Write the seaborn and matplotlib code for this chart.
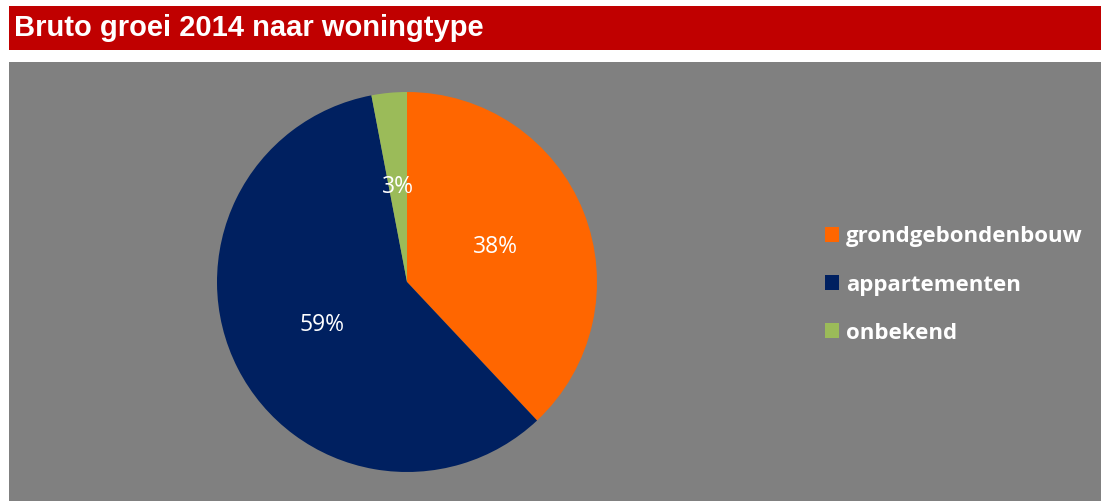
import matplotlib
matplotlib.use("Agg")
import matplotlib.pyplot as plt
import seaborn as sns

# Bruto groei 2014, verdeling naar woningtype (aandeel in %)
categories = ["grondgebondenbouw", "appartementen", "onbekend"]
shares = [38, 59, 3]
colors = ["#FF6600", "#002060", "#9BBB59"]
title = "Bruto groei 2014 naar woningtype"

sns.set_theme(style="white")
plt.rcParams["font.family"] = ["Open Sans", "DejaVu Sans"]

W, H = 1101, 501
fig = plt.figure(figsize=(W / 100, H / 100), dpi=100, facecolor="white")

def box(x0, y0, x1, y1):
    """Pixel box (top-left origin) -> figure fraction rect."""
    return [x0 / W, 1 - y1 / H, (x1 - x0) / W, (y1 - y0) / H]

# red title bar
tax = fig.add_axes(box(9, 6, W, 50))
tax.set_facecolor("#C00000")
tax.set_xticks([]); tax.set_yticks([])
for s in tax.spines.values():
    s.set_visible(False)
tax.text(5 / (W - 9), 0.5, title, color="white", fontsize=21, fontweight="bold",
         family=["Liberation Sans", "DejaVu Sans"], va="center", ha="left",
         transform=tax.transAxes)

# grey chart panel
gax = fig.add_axes(box(9, 62, W, H))
gax.set_facecolor("#808080")
gax.set_xticks([]); gax.set_yticks([])
for s in gax.spines.values():
    s.set_visible(False)

# pie
pax = fig.add_axes(box(217, 92, 597, 472))
pax.set_facecolor("none")
wedges, texts, autotexts = pax.pie(
    shares, colors=colors, startangle=90, counterclock=False,
    autopct=lambda p: f"{p:.0f}%", pctdistance=0.5,
    wedgeprops=dict(linewidth=0, edgecolor="none"),
    textprops=dict(color="white", fontsize=16.5),
)
pax.set_xlim(-1, 1); pax.set_ylim(-1, 1)
pax.set_aspect("auto")
pax.axis("off")

leg = fig.legend(
    wedges, categories, loc="center left",
    bbox_to_anchor=(805 / W, 1 - 285 / H),
    frameon=False, handlelength=0.64, handleheight=0.64, handletextpad=0.3,
    labelspacing=1.22, prop=dict(family=["Open Sans", "DejaVu Sans"], weight="bold", size=16),
)
for t in leg.get_texts():
    t.set_color("white")

fig.savefig("out.png", dpi=100, facecolor="white")
